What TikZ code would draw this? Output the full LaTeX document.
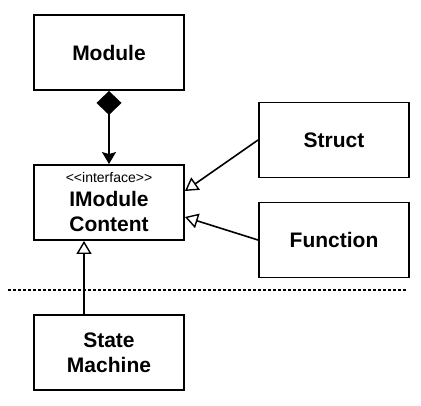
\documentclass[tikz,border=0pt]{standalone}
\usepackage{fontspec}
\setmainfont{Liberation Sans}
\newfontfamily\ifacefont{Liberation Sans}[Ligatures=TeXOff]
\usetikzlibrary{arrows.meta}
\begin{document}
\begin{tikzpicture}[x=1pt,y=-1pt,
  box/.style={draw,line width=1.9pt,minimum width=150pt,minimum height=75pt,inner sep=0pt,align=center,
    font=\fontsize{21}{25}\selectfont\bfseries},
  conn/.style={line width=1.6pt},
  gen/.style={conn,-{Triangle[open,length=13pt,width=15pt,line width=1.4pt]}}
]
\useasboundingbox (0,0) rectangle (421,406);
\node[box] (module) at (109,52.5) {Module};
\node[box] (imc) at (109,202.5) {};
\node[font=\ifacefont\fontsize{14}{16}\selectfont] (iface) at (109,177) {<<interface>>};
\node[align=center,font=\fontsize{21}{25}\selectfont\bfseries] (imctext) at (109,211) {IModule\\Content};
\node[box] (struct) at (334,140) {Struct};
\node[box] (function) at (334,240) {Function};
\node[box] (sm) at (109,352.5) {State\\Machine};
\draw[conn,{Diamond[length=24pt,width=25pt]}-{Stealth[length=12pt,width=14pt,inset=2pt]}] (module.south) -- (imc.north);
\draw[gen] (struct.west) -- (imc.east |- 0,191);
\draw[gen] (function.west) -- (imc.east |- 0,217);
\draw[gen] (sm.north -| 84,0) -- (imc.south -| 84,0);
\coordinate (dl) at (8,290);
\coordinate (dr) at (407,290);
\draw[line width=1.4pt,dash pattern=on 3pt off 2pt] (dl) -- (dr);
\end{tikzpicture}
\end{document}
